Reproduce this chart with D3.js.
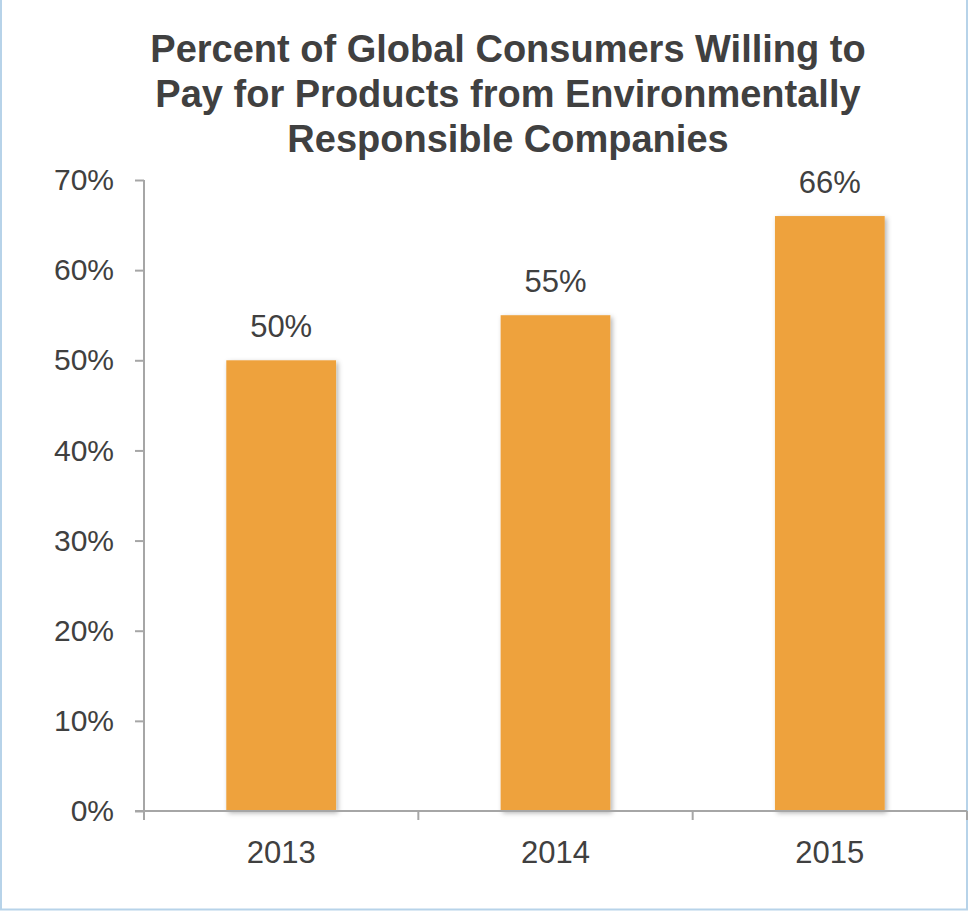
<!DOCTYPE html>
<html>
<head>
<meta charset="utf-8">
<script src="https://cdn.jsdelivr.net/npm/d3@7"></script>
<style>
  html, body { margin: 0; padding: 0; background: #fff; }
  svg { display: block; font-family: "Liberation Sans", Arial, sans-serif; }
</style>
</head>
<body>
<svg id="chart" width="970" height="911"></svg>
<script>
// Chart data
const years = ["2013", "2014", "2015"];
const shares = [0.50, 0.55, 0.66];
const yTicks = [0, 0.1, 0.2, 0.3, 0.4, 0.5, 0.6, 0.7];
const titleLines = [
  "Percent of Global Consumers Willing to",
  "Pay for Products from Environmentally",
  "Responsible Companies"
];

const svg = d3.select("#chart");
const W = 970, H = 911;
const textColor = "#404040";
const axisColor = "#a6a6a6";
const barColor = "#eea23e";
const pct = d3.format(".0%");

// frame
svg.append("path")
  .attr("d", `M1,0 V${H - 1.5} H${W - 3} V0`)
  .attr("fill", "none")
  .attr("stroke", "#b7d3e9")
  .attr("stroke-width", 2);

const plot = { left: 144, right: 967, top: 180, bottom: 811 };

const x = d3.scaleBand().domain(years).range([plot.left, plot.right]).padding(0);
const y = d3.scaleLinear().domain([0, 0.7]).range([plot.bottom, plot.top]);

// soft shadow for bars
const defs = svg.append("defs");
const f = defs.append("filter").attr("id", "barShadow")
  .attr("x", "-20%").attr("y", "-20%").attr("width", "140%").attr("height", "140%");
f.append("feDropShadow")
  .attr("dx", 2).attr("dy", 2).attr("stdDeviation", 2.5)
  .attr("flood-color", "#000").attr("flood-opacity", 0.3);

// title
const title = svg.append("text")
  .attr("text-anchor", "middle")
  .attr("fill", textColor)
  .attr("font-weight", "bold")
  .attr("font-size", 38);
titleLines.forEach((t, i) => {
  title.append("tspan").attr("x", 508).attr("y", 62 + i * 45).text(t);
});

// bars
const barW = x.bandwidth() * 0.4;
svg.append("g").selectAll("rect")
  .data(years)
  .join("rect")
  .attr("x", (d) => x(d) + (x.bandwidth() - barW) / 2)
  .attr("y", (d, i) => y(shares[i]))
  .attr("width", barW)
  .attr("height", (d, i) => y(0) - y(shares[i]))
  .attr("fill", barColor)
  .attr("filter", "url(#barShadow)");

// value labels
svg.append("g").selectAll("text")
  .data(years)
  .join("text")
  .attr("x", (d) => x(d) + x.bandwidth() / 2)
  .attr("y", (d, i) => y(shares[i]) - 23)
  .attr("text-anchor", "middle")
  .attr("font-size", 31)
  .attr("fill", textColor)
  .text((d, i) => pct(shares[i]));

// y axis
const yAxis = svg.append("g")
  .attr("transform", `translate(${plot.left},0)`)
  .call(d3.axisLeft(y).tickValues(yTicks).tickFormat(pct).tickSize(9).tickPadding(21));
yAxis.select(".domain").remove();
yAxis.selectAll(".tick line").attr("stroke", axisColor).attr("stroke-width", 2);
yAxis.selectAll(".tick text")
  .attr("font-size", 30).attr("fill", textColor)
  .attr("font-family", "Liberation Sans, Arial, sans-serif");
yAxis.append("line")
  .attr("x1", 0).attr("x2", 0)
  .attr("y1", plot.top).attr("y2", plot.bottom + 9)
  .attr("stroke", axisColor).attr("stroke-width", 2);

// x axis
const xAxis = svg.append("g")
  .attr("transform", `translate(0,${plot.bottom})`);
xAxis.append("line")
  .attr("x1", plot.left - 9).attr("x2", plot.right)
  .attr("y1", 0).attr("y2", 0)
  .attr("stroke", axisColor).attr("stroke-width", 2);
const boundaries = years.map((d) => x(d) + x.bandwidth()).concat([x(years[0])]);
xAxis.selectAll("line.tick")
  .data(boundaries)
  .join("line")
  .attr("class", "tick")
  .attr("x1", (d) => d).attr("x2", (d) => d)
  .attr("y1", 0).attr("y2", 9)
  .attr("stroke", axisColor).attr("stroke-width", 2);
xAxis.selectAll("text")
  .data(years)
  .join("text")
  .attr("x", (d) => x(d) + x.bandwidth() / 2)
  .attr("y", 52)
  .attr("text-anchor", "middle")
  .attr("font-size", 31)
  .attr("fill", textColor)
  .text((d) => d);
</script>
</body>
</html>
